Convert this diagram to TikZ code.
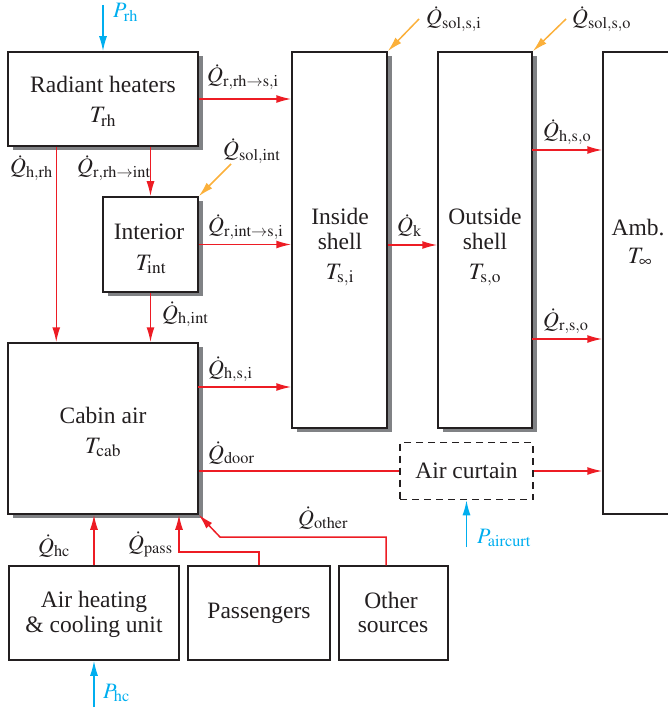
\documentclass[tikz,border=0pt]{standalone}
\usepackage{mathptmx}
\usepackage[no-math]{fontspec}
\setmainfont{Liberation Serif}
\usetikzlibrary{arrows.meta,shadows}
\definecolor{boxc}{RGB}{35,31,32}
\definecolor{shadowc}{RGB}{128,130,133}
\definecolor{redc}{RGB}{237,28,36}
\definecolor{orangec}{RGB}{251,176,59}
\definecolor{bluec}{RGB}{0,174,239}
\newcommand\boxfont{\fontsize{23.5}{25}\selectfont}
\newcommand\lblfont{\fontsize{22}{24}\selectfont}
\newcommand\Qd[1]{$\dot{Q}_{\mathrm{#1}}$}
\tikzset{
  box/.style={draw=boxc, line width=1.5pt, fill=white, inner sep=0pt},
  shadowed/.style={drop shadow={shadow xshift=4.5pt, shadow yshift=-4pt, fill=shadowc, opacity=1}},
  dashbox/.style={draw=boxc, line width=1.5pt, dash pattern=on 7pt off 5pt, fill=white, inner sep=0pt},
  txt/.style={anchor=base, inner sep=0pt, font=\boxfont, text=boxc},
  lbl/.style={anchor=base west, inner sep=0pt, font=\lblfont, text=boxc},
  heat/.style={draw=redc, line width=1.5pt, -{Latex[length=15pt,width=8pt]}},
  doorline/.style={draw=redc, line width=1.2pt},
  solar/.style={draw=orangec, line width=1.5pt, -{Latex[length=15pt,width=8pt]}},
  power/.style={draw=bluec, line width=1.5pt, -{Latex[length=15pt,width=8pt]}},
  plbl/.style={anchor=base west, inner sep=0pt, font=\lblfont, text=bluec},
}
\begin{document}
\begin{tikzpicture}[x=1pt,y=-1pt]
\useasboundingbox (0,0) rectangle (667,711);
% boxes
\node[box, shadowed, minimum width=190pt, minimum height=94pt] (rh) at (103,99) {};
\node[box, shadowed, minimum width=95pt, minimum height=95pt] (int) at (150.5,244.5) {};
\node[box, shadowed, minimum width=190pt, minimum height=171pt] (cab) at (103,428.5) {};
\node[box, shadowed, minimum width=95pt, minimum height=376pt] (is) at (339.5,240) {};
\node[box, shadowed, minimum width=94pt, minimum height=376pt] (os) at (485,240) {};
\node[box, minimum width=120pt, minimum height=462pt] (amb) at (663,283) {};
\node[dashbox, minimum width=133pt, minimum height=57pt] (ac) at (466.5,471) {};
\node[box, minimum width=170pt, minimum height=94pt] (ahc) at (94,613) {};
\node[box, minimum width=142pt, minimum height=94pt] (pas) at (259,613) {};
\node[box, minimum width=109pt, minimum height=94pt] (oth) at (393.5,613) {};
% box texts
\node[txt] (rh1) at (103,93) {Radiant heaters};
\node[txt] (rh2) at (103,123) {$T_{\mathrm{rh}}$};
\node[txt] (int1) at (149,240) {Interior};
\node[txt] (int2) at (151,270) {$T_{\mathrm{int}}$};
\node[txt] (cab1) at (103,423) {Cabin air};
\node[txt] (cab2) at (103,453) {$T_{\mathrm{cab}}$};
\node[txt] (is1) at (340,225) {Inside};
\node[txt] (is2) at (340,249) {shell};
\node[txt] (is3) at (340,279) {$T_{\mathrm{s,i}}$};
\node[txt] (os1) at (485,225) {Outside};
\node[txt] (os2) at (485,249) {shell};
\node[txt] (os3) at (485,279) {$T_{\mathrm{s,o}}$};
\node[txt] (amb1) at (638,235) {Amb.};
\node[txt] (amb2) at (640,263) {$T_{\infty}$};
\node[txt] (ac1) at (466.5,478) {Air curtain};
\node[txt] (ahc1) at (94,607) {Air heating};
\node[txt] (ahc2) at (94,632) {\& cooling unit};
\node[txt] (pas1) at (259,618) {Passengers};
\node[txt] (oth1) at (391,608) {Other};
\node[txt] (oth2) at (393,632) {sources};
% coordinates
\coordinate (prh) at (103,5);
\coordinate (phc) at (94,707);
\coordinate (pac) at (466.5,547);
\coordinate (solint) at (231,164);
\coordinate (solsi) at (419,19);
\coordinate (solso) at (566,19);
\coordinate (hsi) at (198,387);
\coordinate (hso) at (532,150);
\coordinate (rso) at (532,339);
\coordinate (qo1) at (220,537);
\coordinate (qp1) at (179,552);
% power arrows
\draw[power] (prh) -- (rh.north);
\draw[power] (phc) -- (ahc.south);
\draw[power] (pac) -- (ac.south);
% solar arrows
\draw[solar] (solint) -- (int.north east);
\draw[solar] (solsi) -- (is.north east);
\draw[solar] (solso) -- (os.north east);
% heat flows
\draw[heat] (rh.east) -- (rh.east -| is.west);
\draw[heat] ([xshift=49pt]rh.south west) -- ([xshift=49pt]rh.south west |- cab.north);
\draw[heat] (int.north |- rh.south) -- (int.north);
\draw[heat] (int.east) -- (int.east -| is.west);
\draw[heat] (int.south) -- (int.south |- cab.north);
\draw[heat] (hsi) -- (hsi -| is.west);
\draw[heat] ([yshift=-5pt]is.east) -- ([yshift=-5pt]os.west);
\draw[heat] (hso) -- (hso -| amb.west);
\draw[heat] (rso) -- (rso -| amb.west);
\draw[doorline] (cab.east |- ac.west) -- (ac.west);
\draw[heat] (ac.east) -- (ac.east -| amb.west);
\draw[heat] (ahc.north) -- (ahc.north |- cab.south);
\draw[heat] (pas.north) |- (qp1) -- (qp1 |- cab.south);
\draw[heat] ([xshift=-7.5pt]oth.north) |- (qo1) -- (cab.south east);
% labels
\node[plbl] (lprh) at (113,18) {$P_{\mathrm{rh}}$};
\node[plbl] (lphc) at (103,698) {$P_{\mathrm{hc}}$};
\node[plbl] (lpac) at (477,543) {$P_{\mathrm{aircurt}}$};
\node[lbl] (l1) at (207,83) {\Qd{r,rh\to s,i}};
\node[lbl] (l2) at (10,174) {\Qd{h,rh}};
\node[lbl] (l3) at (77,174) {\Qd{r,rh\to int}};
\node[lbl] (l4) at (223,157) {\Qd{sol,int}};
\node[lbl] (l5) at (208,233) {\Qd{r,int\to s,i}};
\node[lbl] (l6) at (162,320) {\Qd{h,int}};
\node[lbl] (l7) at (208,375) {\Qd{h,s,i}};
\node[lbl] (l8) at (426,25) {\Qd{sol,s,i}};
\node[lbl] (l9) at (572,25) {\Qd{sol,s,o}};
\node[lbl] (l10) at (543,138) {\Qd{h,s,o}};
\node[lbl] (l11) at (397,233) {\Qd{k}};
\node[lbl] (l12) at (543,327) {\Qd{r,s,o}};
\node[lbl] (l13) at (208,460) {\Qd{door}};
\node[lbl] (l14) at (298,525) {\Qd{other}};
\node[lbl] (l15) at (128,550) {\Qd{pass}};
\node[lbl] (l16) at (38,553) {\Qd{hc}};
\end{tikzpicture}
\end{document}
